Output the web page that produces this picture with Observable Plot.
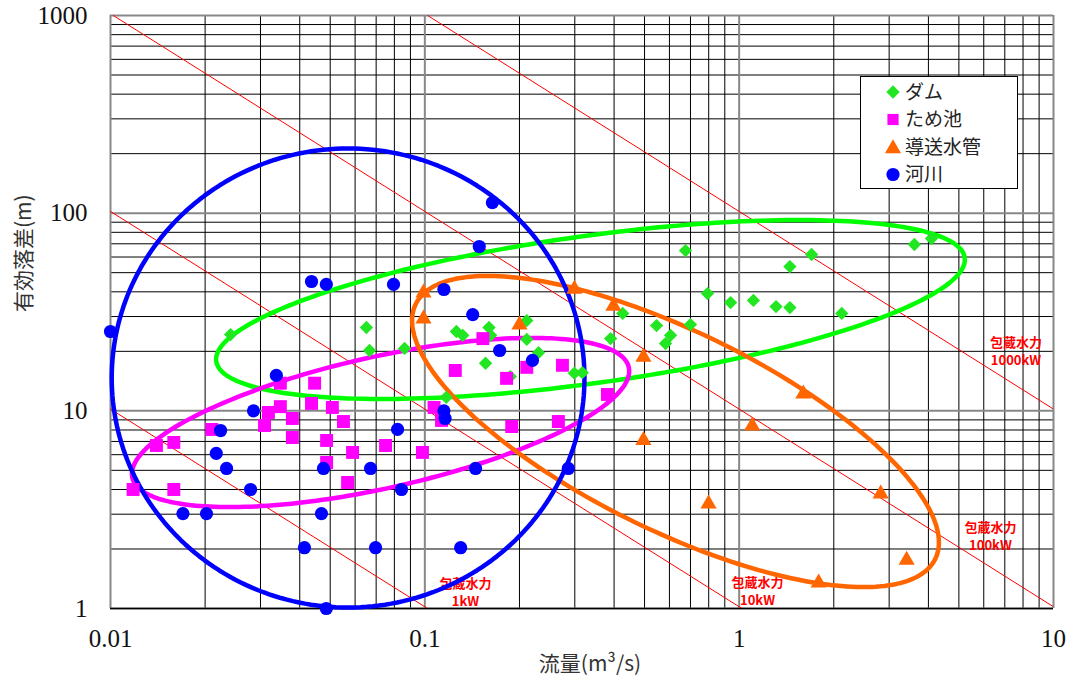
<!DOCTYPE html>
<html><head><meta charset="utf-8">
<script src="https://cdn.jsdelivr.net/npm/d3@7"></script>
<script src="https://cdn.jsdelivr.net/npm/@observablehq/plot@0.6"></script>
<style>
body{margin:0;background:#fff;}
#wrap{position:relative;width:1073px;height:687px;}
#legend{position:absolute;left:860px;top:76px;}
</style></head><body><div id="wrap"></div>
<script>
// ---- categories / styles ----
const categories = ["ダム", "ため池", "導送水管", "河川"];
const pointColors = ["#22e622", "#ff00ff", "#ff6600", "#0000ff"];
const lineColors = ["#00ff00", "#ff00ff", "#ff6600", "#0000ff"];
const symbols = ["diamond2", "square", "triangle", "circle"];

// ---- axes ----
const xMajor = [0.01, 0.1, 1, 10];
const xTickLabels = ["0.01", "0.1", "1", "10"];
const yMajor = [1, 10, 100, 1000];
const yTickLabels = ["1", "10", "100", "1000"];

// ---- series (Q: m3/s, H: m) ----
const damQ = [0.0241,0.0652,0.0667,0.0862,0.126,0.132,0.160,0.162,0.156,0.117,0.211,0.211,0.230,0.187,0.299,0.317,0.426,0.390,0.546,0.605,0.583,0.700,0.675,0.793,0.939,1.11,1.31,1.45,1.45,1.70,2.12,3.61,4.09];
const damH = [24.3,26.4,20.2,20.7,25.2,24.1,26.4,24.1,17.4,11.7,28.6,23.0,19.7,14.9,15.5,15.6,31.1,23.2,27.0,24.1,21.9,27.3,64.7,39.2,35.3,36.2,33.7,33.3,53.7,61.8,31.1,69.4,74.4];

const pondQ = [0.153,0.125,0.211,0.274,0.182,0.381,0.189,0.266,0.107,0.113,0.0446,0.0347,0.0436,0.0508,0.0347,0.0318,0.0379,0.0309,0.0551,0.0210,0.0379,0.0487,0.0750,0.0983,0.0589,0.0140,0.0159,0.0487,0.0568,0.0118,0.0159];
const pondH = [23.2,16.0,16.6,17.0,14.6,12.1,8.33,8.83,10.4,8.94,13.8,13.8,10.9,10.4,10.5,9.81,9.15,8.43,8.83,8.05,7.33,7.08,6.68,6.16,6.16,6.68,6.92,5.48,4.34,4.00,4.00];

const pipeQ = [0.099,0.099,0.200,0.299,0.398,0.496,0.496,0.799,1.10,1.60,1.79,2.82,3.41];
const pipeH = [39.5,29.2,27.2,41.3,33.9,18.7,7.1,3.38,8.4,12.2,1.35,3.8,1.76];

const riverQ = [0.0100,0.164,0.149,0.0436,0.0486,0.0795,0.115,0.142,0.173,0.220,0.0337,0.0285,0.0224,0.115,0.116,0.0217,0.0234,0.0476,0.0672,0.0819,0.145,0.286,0.0279,0.0843,0.0170,0.0202,0.0469,0.0414,0.0697,0.130,0.0486];
const riverH = [25.2,113,67.8,45.1,43.6,43.6,41.1,30.7,20.2,18.0,15.1,10.0,7.95,10.0,9.15,6.09,5.11,5.11,5.11,8.05,5.11,5.11,4.00,4.00,3.02,3.02,3.02,2.03,2.03,2.03,1.00];

// ---- grouping ellipses (centre + axes in decades of log10) ----
const ellQ = [0.3365, 0.0723, 0.6273, 0.0570];
const ellH = [32.55, 8.73, 7.86, 14.66];
const ellA = [1.191, 0.791, 0.838, 0.752];   // log10 Q amplitude (cos t)
const ellC = [0.252, 0.260, -0.561, 0.0];    // log10 H amplitude (cos t)
const ellD = [0.376, 0.340, 0.552, 1.161];   // log10 H amplitude (sin t)

// ---- potential power lines (kW), P = 9.8 Q H ----
const powerKW = [1, 10, 100, 1000];
const powerLabelTop = ["包蔵水力", "包蔵水力", "包蔵水力", "包蔵水力"];
const powerLabelBottom = ["1kW", "10kW", "100kW", "1000kW"];
const powerLabelQ = [0.1347, 1.144, 6.30, 7.6];
const powerLabelH = [1.205, 1.22, 2.31, 20.0];

// ---- build tables ----
const series = [[damQ, damH], [pondQ, pondH], [pipeQ, pipeH], [riverQ, riverH]]
  .map(([qs, hs], k) => qs.map((q, i) => ({Q: q, H: hs[i], k})));

const ellipses = categories.map((name, k) => {
  const pts = [];
  const n = 240;
  for (let i = 0; i <= n; i++) {
    const t = 2 * Math.PI * i / n;
    const lx = Math.log10(ellQ[k]) + ellA[k] * Math.cos(t);
    const ly = Math.log10(ellH[k]) + ellC[k] * Math.cos(t) + ellD[k] * Math.sin(t);
    pts.push({Q: 10 ** lx, H: 10 ** ly, k});
  }
  return pts;
});

const powerLines = powerKW.flatMap((P) => {
  const q1 = Math.max(xMajor[0], P / (9.8 * yMajor[3]));
  const q2 = Math.min(xMajor[3], P / (9.8 * yMajor[0]));
  return [{Q: q1, H: P / (9.8 * q1), P}, {Q: q2, H: P / (9.8 * q2), P}];
});
const powerLabels = powerKW.map((P, i) => ({Q: powerLabelQ[i], H: powerLabelH[i], top: powerLabelTop[i], bottom: powerLabelBottom[i]}));

const xMinor = [], yMinor = [];
for (let e = -2; e < 1; e++) for (let m = 2; m <= 9; m++) xMinor.push(m * 10 ** e);
for (let e = 0; e < 3; e++) for (let m = 2; m <= 9; m++) yMinor.push(m * 10 ** e);

const cjk = "Noto Sans CJK JP";

const plot = Plot.plot({
  width: 1073, height: 687,
  marginLeft: 110, marginRight: 20, marginTop: 15, marginBottom: 79,
  style: {background: "#fff", overflow: "visible"},
  x: {type: "log", domain: [0.01, 10], axis: null},
  y: {type: "log", domain: [1, 1000], axis: null},
  marks: [
    Plot.ruleX(xMinor, {stroke: "#000", strokeWidth: 1}),
    Plot.ruleY(yMinor, {stroke: "#000", strokeWidth: 1}),
    Plot.ruleX(xMajor, {stroke: "#888", strokeWidth: 2}),
    Plot.ruleY(yMajor, {stroke: "#888", strokeWidth: 2}),
    Plot.ruleY([yMajor[0]], {stroke: "#000", strokeWidth: 1.5}),
    Plot.line(powerLines, {x: "Q", y: "H", z: "P", stroke: "#ff0000", strokeWidth: 1, clip: true}),
    Plot.text(powerLabels, {x: "Q", y: "H", text: "top", dy: -9, fill: "#ff0000", fontWeight: "bold", fontSize: 13, fontFamily: cjk, letterSpacing: "3px"}),
    Plot.text(powerLabels, {x: "Q", y: "H", text: "bottom", dy: 9, fill: "#ff0000", fontWeight: "bold", fontSize: 13, fontFamily: cjk, letterSpacing: "1px"}),
    ...ellipses.map((pts, k) => Plot.line(pts, {x: "Q", y: "H", stroke: lineColors[k], strokeWidth: 4.5, curve: "linear"})),
    Plot.dot(series[0], {x: "Q", y: "H", symbol: symbols[0], r: 6, fill: pointColors[0]}),
    Plot.dot(series[1], {x: "Q", y: "H", symbol: symbols[1], r: 7.3, fill: pointColors[1]}),
    Plot.dot(series[2], {x: "Q", y: "H", symbol: symbols[2], r: 6, fill: pointColors[2]}),
    Plot.dot(series[3], {x: "Q", y: "H", symbol: symbols[3], r: 6.6, fill: pointColors[3]}),
    // tick labels
    Plot.text(xMajor, {x: d => d, frameAnchor: "bottom", dy: 38, text: (d, i) => xTickLabels[i], fontSize: 25, fill: "#111"}),
    Plot.text(yMajor, {y: d => d, frameAnchor: "left", dx: -23, textAnchor: "end", text: (d, i) => yTickLabels[i], fontSize: 25, fill: "#111"}),
    // axis titles
    Plot.text(["流量(m³/s)"], {frameAnchor: "bottom", text: d => d, dy: 62, dx: 8, fontSize: 21, fontFamily: cjk, fill: "#333", letterSpacing: "3px"}),
    Plot.text(["有効落差(m)"], {frameAnchor: "left", text: d => d, rotate: -90, dx: -86, fontSize: 21, fontFamily: cjk, fill: "#333", letterSpacing: "2px"})
  ]
});

const wrap = document.getElementById("wrap");
wrap.appendChild(plot);
// tick labels in a serif face, like the Mincho numerals of the original
const tickSet = new Set([...xTickLabels, ...yTickLabels]);
d3.select(plot).selectAll("text").filter(function () { return tickSet.has(this.textContent); })
  .attr("font-family", "Liberation Serif")
  .style("font-family", "\"Liberation Serif\", \"DejaVu Serif\", serif")
  .style("font-weight", "normal");

// ---- legend box inside the plot area ----
const lw = 158, lh = 113;
const legend = d3.select(wrap).append("svg").attr("id", "legend")
  .attr("width", lw).attr("height", lh);
legend.append("rect").attr("x", 0.5).attr("y", 0.5).attr("width", lw - 1).attr("height", lh - 1)
  .attr("fill", "#fff").attr("stroke", "#000").attr("stroke-width", 1);
const d3sym = {diamond2: d3.symbolDiamond2, square: d3.symbolSquare, triangle: d3.symbolTriangle, circle: d3.symbolCircle};
const symR = [6, 6.3, 6, 6.6];
categories.forEach((c, i) => {
  const cy = 16 + i * 27.5;
  legend.append("path")
    .attr("d", d3.symbol(d3sym[symbols[i]], Math.PI * symR[i] * symR[i])())
    .attr("transform", `translate(33,${cy + (i === 2 ? 1.5 : 0)})`)
    .attr("fill", pointColors[i]);
  legend.append("text").attr("x", 45).attr("y", cy).attr("dy", "0.35em")
    .attr("font-family", cjk).attr("font-size", 19).attr("fill", "#222").text(c);
});
</script>
</body></html>
